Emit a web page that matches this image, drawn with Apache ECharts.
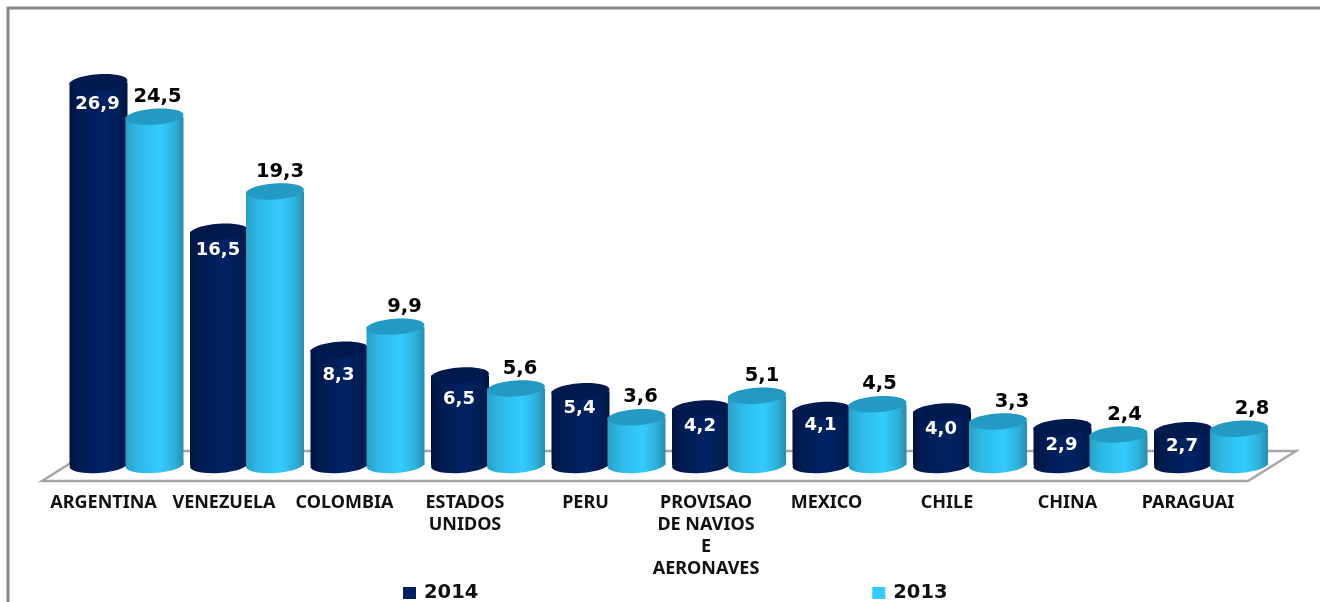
<!DOCTYPE html>
<html><head><meta charset="utf-8">
<style>html,body{margin:0;padding:0;background:#fff}#c{width:1320px;height:602px}</style>
<script src="https://cdn.jsdelivr.net/npm/echarts@6/dist/echarts.min.js"></script>
</head><body><div id="c"></div>
<script>
const categories = ['ARGENTINA','VENEZUELA','COLOMBIA','ESTADOS\nUNIDOS','PERU','PROVISAO\nDE NAVIOS\nE\nAERONAVES','MEXICO','CHILE','CHINA','PARAGUAI'];
const values2014 = [26.9,16.5,8.3,6.5,5.4,4.2,4.1,4.0,2.9,2.7];
const values2013 = [24.5,19.3,9.9,5.6,3.6,5.1,4.5,3.3,2.4,2.8];
const labelShiftX2013 = [3,5,9,4,4,5,2,14,6,13];
const labelShiftY2014 = [22,19,26,24,17,18,15,18,18,16];

const fmt = v => v.toFixed(1).replace('.',',');
const chart = echarts.init(document.getElementById('c'));
const W = 58, RY = 8, TILT = 0.07;

function grad(stops){return new echarts.graphic.LinearGradient(0,0,1,0,stops.map(s=>({offset:s[0],color:s[1]})));}
const dark = {legend:'#002060', cap:'#001a50',
  body:()=>grad([[0,'#00123c'],[0.12,'#001a4e'],[0.6,'#002364'],[0.9,'#001c52'],[1,'#001642']])};
const light = {legend:'#33ccff', cap:'#229ac4',
  body:()=>grad([[0,'#2a9fc6'],[0.2,'#2db8e4'],[0.6,'#33ccff'],[0.85,'#2cb0da'],[1,'#2a8cac']])};

function cyl(pal, side){
  return function(params, api){
    const i = api.value(0), v = api.value(1);
    const c = api.coord([i, v]), b = api.coord([i, 0]);
    const x0 = side < 0 ? c[0]-W+1 : c[0]-1;
    const cx = x0 + W/2, yBot = b[1]-4, yTop = c[1];
    const ell = (y, fill) => ({type:'ellipse', x:cx, y:y, rotation:TILT,
      shape:{cx:0, cy:0, rx:W/2, ry:RY}, style:{fill}});
    return {type:'group', children:[
      ell(yBot, pal.body()),
      {type:'rect', shape:{x:x0, y:yTop, width:W, height:yBot-yTop}, style:{fill:pal.body()}},
      ell(yTop, pal.cap)
    ]};
  };
}
const series = [
  {name:'2014', type:'custom', z:3, renderItem:cyl(dark,-1), itemStyle:{color:dark.legend},
   encode:{x:0,y:1}, data:values2014.map((v,i)=>[i,v])},
  {name:'2013', type:'custom', z:4, renderItem:cyl(light,1), itemStyle:{color:light.legend},
   encode:{x:0,y:1}, data:values2013.map((v,i)=>[i,v])},
  {type:'scatter', z:6, symbolSize:0, silent:true, itemStyle:{opacity:1}, data:values2014.map((v,i)=>({value:[i,v],
     label:{show:true, formatter:fmt(v), color:'#fff', fontFamily:'DejaVu Sans', fontWeight:'bold', fontSize:18,
       position:'inside', offset:[-29, labelShiftY2014[i]]}}))},
  {type:'scatter', z:6, symbolSize:0, silent:true, itemStyle:{opacity:1}, data:values2013.map((v,i)=>({value:[i,v],
     label:{show:true, formatter:fmt(v), color:'#000', fontFamily:'DejaVu Sans', fontWeight:'bold', fontSize:19.5,
       position:'inside', offset:[28+labelShiftX2013[i], -20]}}))}
];
chart.setOption({
  animation:false,
  backgroundColor:'#fff',
  grid:{left:66.25, width:1205, top:20, height:449, containLabel:false},
  xAxis:{type:'category', data:categories, axisLine:{show:false}, axisTick:{show:false},
    axisLabel:{interval:0, margin:23, verticalAlign:'top', color:'#111', fontFamily:'Noto Sans', fontWeight:'bold', fontSize:18, lineHeight:22, padding:[0,46,0,0]}},
  yAxis:{type:'value', min:0, max:449/14.38, show:false, splitLine:{show:false}},
  legend:{data:['2014','2013'], left:403, top:583, padding:0, itemWidth:13, itemHeight:12, itemGap:394, icon:'rect',
    textStyle:{fontFamily:'DejaVu Sans', fontWeight:'bold', fontSize:19.5, color:'#111', padding:[0,0,0,3]}},
  graphic:[
    {type:'polyline', silent:true, z:0, shape:{points:[[8,602],[8,8],[1320,8]]}, style:{stroke:'#868686', lineWidth:3, fill:null}},
    {type:'polygon', silent:true, z:0, shape:{points:[[42,481],[90,451],[1296,451],[1248,481]]}, style:{stroke:'#a6a6a6', lineWidth:2.5, fill:'#fff'}}
  ],
  series
});
</script></body></html>
